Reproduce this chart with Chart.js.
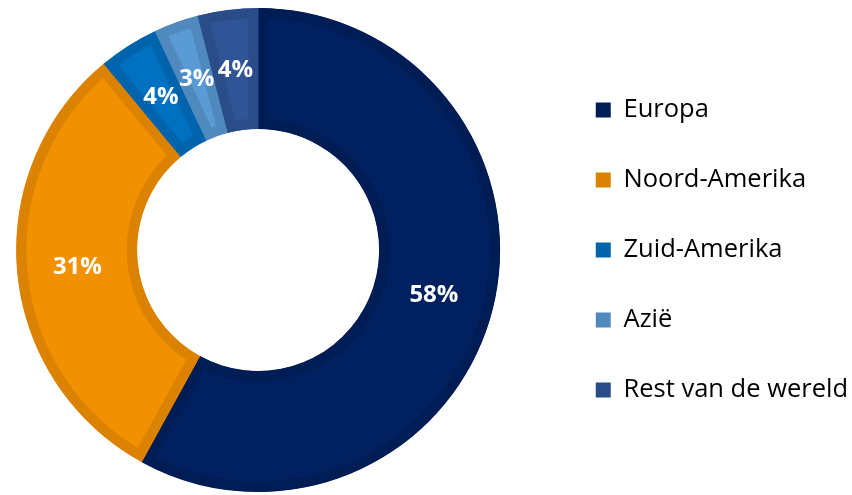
<!DOCTYPE html>
<html>
<head>
<meta charset="utf-8">
<script src="https://cdn.jsdelivr.net/npm/chart.js@4.4.1/dist/chart.umd.min.js"></script>
<style>
  html, body { margin: 0; padding: 0; background: #ffffff; overflow: hidden; }
  #wrap { position: relative; width: 852px; height: 495px; overflow: hidden; }
  /* canvas pushed a bit left so the ring sits where the original one does */
  #donutChart { position: absolute; left: -35px; top: 0; }
</style>
</head>
<body>
<div id="wrap"><canvas id="donutChart" width="893" height="495"></canvas></div>
<script>
const regions = ['Europa', 'Noord-Amerika', 'Zuid-Amerika', 'Azië', 'Rest van de wereld'];
const shares = [58, 31, 4, 3, 4];
const fillColors = ['#002060', '#F29100', '#0070C0', '#5B9BD5', '#2F5597'];
const edgeColors = ['#001C54', '#DB8200', '#0064AC', '#5089BE', '#2A4C88'];

// Draw the percentage in the middle of each slice
const sliceLabels = {
    id: 'sliceLabels',
    afterDatasetsDraw: (chart) => {
        const ctx = chart.ctx;
        const meta = chart.getDatasetMeta(0);
        ctx.save();
        ctx.fillStyle = '#ffffff';
        ctx.font = 'bold 24px "Open Sans"';
        ctx.textAlign = 'center';
        ctx.textBaseline = 'middle';
        meta.data.forEach((arc, i) => {
            const pos = arc.tooltipPosition();
            ctx.fillText(shares[i] + '%', pos.x, pos.y);
        });
        ctx.restore();
    }
};

const ctx = document.getElementById('donutChart').getContext('2d');
const chartInstance = new Chart(ctx, {
    type: 'doughnut',
    data: {
        labels: regions,
        datasets: [
            {
                data: shares,
                backgroundColor: fillColors,
                borderColor: edgeColors,
                borderWidth: 10,
                borderAlign: 'inner',
            },
        ],
    },
    options: {
        responsive: false,
        animation: false,
        cutout: '50%',
        layout: {
            padding: { left: 0, right: 0, top: 8, bottom: 3 },
        },
        plugins: {
            tooltip: { enabled: false },
            legend: {
                position: 'right',
                labels: {
                    font: { family: '"Open Sans"', size: 25.5 },
                    color: '#000000',
                    boxWidth: 15,
                    boxHeight: 15,
                    padding: 44.5,
                    generateLabels: (chart) => regions.map((name, i) => ({
                        text: name,
                        fillStyle: edgeColors[i],
                        strokeStyle: edgeColors[i],
                        lineWidth: 0,
                        index: i,
                    })),
                },
            },
        },
    },
    plugins: [sliceLabels],
});
</script>
</body>
</html>
